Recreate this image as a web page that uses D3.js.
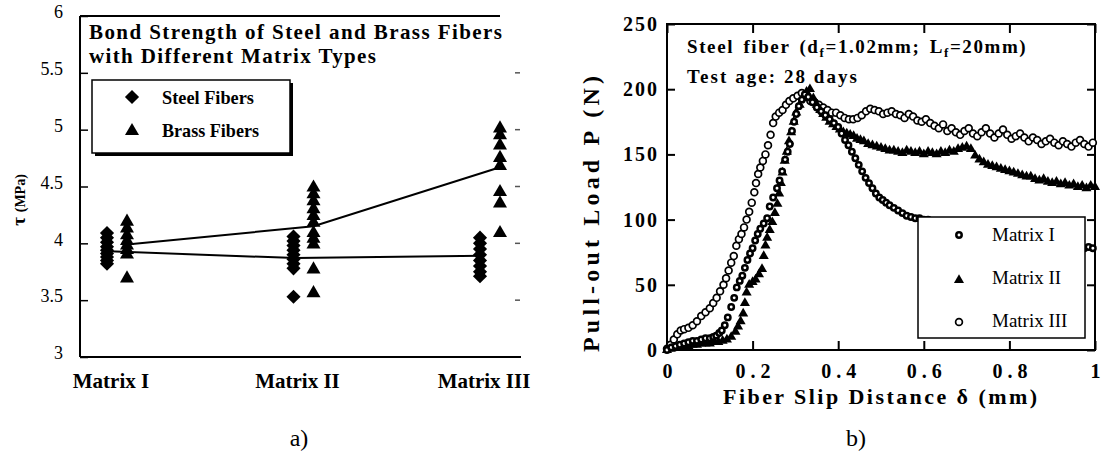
<!DOCTYPE html>
<html><head><meta charset="utf-8">
<script src="https://cdn.jsdelivr.net/npm/d3@7/dist/d3.min.js"></script>
<style>
body{margin:0;background:#fff;}
svg text{font-family:"Liberation Serif","Times New Roman",serif;fill:#000;}
</style></head>
<body>
<svg id="c" width="1109" height="454"></svg>
<script>
// ---------- DATA: chart a) ----------
const categories = ["Matrix I", "Matrix II", "Matrix III"];
const steelValues = [
  [4.09, 4.05, 4.01, 3.97, 3.94, 3.91, 3.88, 3.85, 3.82],
  [4.06, 4.02, 3.98, 3.94, 3.90, 3.86, 3.82, 3.78, 3.53],
  [4.05, 4.00, 3.95, 3.90, 3.85, 3.80, 3.75, 3.71]
];
const brassValues = [
  [4.20, 4.14, 4.08, 4.03, 3.99, 3.95, 3.91, 3.70],
  [4.50, 4.44, 4.38, 4.31, 4.25, 4.19, 4.10, 4.05, 4.00, 3.78, 3.57],
  [5.02, 4.96, 4.87, 4.76, 4.69, 4.46, 4.36, 4.10]
];
const steelMean = [3.93, 3.87, 3.89];
const brassMean = [3.99, 4.15, 4.67];
const tauTicks = [3, 3.5, 4, 4.5, 5, 5.5, 6];
const tauTickLabels = ["3", "3.5", "4", "4.5", "5", "5.5", "6"];
const legendA = ["Steel Fibers", "Brass Fibers"];

// ---------- DATA: chart b) ----------
const matrixI = [
  [0.000,0],[0.010,2],[0.020,3],[0.030,4],[0.040,5],[0.050,6],[0.060,7],[0.070,7],[0.080,8],[0.090,9],
  [0.100,9],[0.108,10],[0.115,11],[0.122,13],[0.128,15],[0.135,19],[0.142,25],[0.150,33],[0.157,40],[0.163,48],
  [0.170,53],[0.176,57],[0.182,63],[0.188,69],[0.194,74],[0.200,78],[0.206,84],[0.212,89],[0.218,93],[0.226,97],
  [0.234,101],[0.240,110],[0.248,117],[0.257,124],[0.263,130],[0.269,137],[0.276,146],[0.282,152],[0.287,158],[0.292,168],
  [0.297,175],[0.302,181],[0.308,187],[0.315,192],[0.322,196],[0.330,194],[0.340,190],[0.350,186],[0.360,183],[0.370,180],
  [0.380,177],[0.390,174],[0.400,171],[0.408,166],[0.416,161],[0.424,157],[0.432,152],[0.440,147],[0.448,142],[0.456,137],
  [0.464,132],[0.472,128],[0.480,124],[0.488,120],[0.496,117],[0.504,115],[0.512,113],[0.520,111],[0.530,109],[0.540,107],
  [0.550,105],[0.560,103],[0.570,102],[0.580,101],[0.590,101],[0.600,100],[0.610,100],[0.620,99],[0.650,97],[0.700,94],
  [0.750,91],[0.800,88],[0.850,85],[0.900,82],[0.940,80],[0.965,79],[0.975,78],[0.985,79],[0.995,78]
];
const matrixII = [
  [0.000,0],[0.010,1],[0.020,2],[0.030,2],[0.040,3],[0.050,3],[0.060,4],[0.070,4],[0.080,5],[0.090,5],
  [0.100,5],[0.110,6],[0.120,6],[0.130,7],[0.140,8],[0.150,10],[0.160,14],[0.166,18],[0.172,22],[0.178,28],
  [0.182,36],[0.186,44],[0.192,50],[0.200,52],[0.207,54],[0.215,58],[0.222,62],[0.226,72],[0.230,80],[0.234,86],
  [0.240,92],[0.246,98],[0.252,105],[0.258,112],[0.262,120],[0.266,128],[0.270,136],[0.275,145],[0.280,152],[0.285,160],
  [0.290,167],[0.296,175],[0.302,182],[0.310,188],[0.318,194],[0.326,198],[0.334,200],[0.342,193],[0.350,188],[0.358,184],
  [0.365,181],[0.372,178],[0.380,175],[0.388,173],[0.396,171],[0.404,169],[0.412,167],[0.420,166],[0.428,165],[0.436,164],
  [0.444,162],[0.452,161],[0.460,160],[0.470,158],[0.480,157],[0.490,156],[0.500,155],[0.510,154],[0.520,153],[0.530,153],
  [0.540,152],[0.550,151],[0.560,153],[0.570,152],[0.580,151],[0.590,152],[0.600,150],[0.610,152],[0.620,151],[0.630,150],
  [0.640,152],[0.650,151],[0.660,153],[0.670,152],[0.680,154],[0.690,155],[0.700,156],[0.710,154],[0.720,149],[0.730,146],
  [0.740,144],[0.750,142],[0.760,141],[0.770,140],[0.780,139],[0.790,138],[0.800,137],[0.810,136],[0.820,135],[0.830,134],
  [0.840,133],[0.850,133],[0.860,131],[0.870,130],[0.880,131],[0.890,129],[0.900,128],[0.910,129],[0.920,127],[0.930,128],
  [0.940,126],[0.950,127],[0.960,125],[0.970,126],[0.980,124],[0.990,126],[1.000,125]
];
const matrixIII = [
  [0.000,1],[0.008,4],[0.016,8],[0.024,12],[0.032,15],[0.040,16],[0.050,17],[0.060,19],[0.070,22],[0.080,26],
  [0.090,29],[0.100,32],[0.108,36],[0.116,40],[0.124,45],[0.132,50],[0.138,55],[0.144,61],[0.150,67],[0.156,72],
  [0.162,80],[0.168,85],[0.174,89],[0.180,94],[0.186,100],[0.192,106],[0.198,113],[0.204,121],[0.208,128],[0.213,135],
  [0.218,140],[0.224,145],[0.230,150],[0.236,157],[0.242,165],[0.248,174],[0.254,179],[0.262,182],[0.270,184],[0.278,188],
  [0.286,191],[0.295,193],[0.305,195],[0.315,197],[0.325,194],[0.335,191],[0.345,190],[0.355,188],[0.365,186],[0.375,184],
  [0.385,182],[0.395,182],[0.405,180],[0.415,178],[0.425,177],[0.435,177],[0.445,178],[0.455,180],[0.465,183],[0.475,185],
  [0.485,184],[0.495,183],[0.505,181],[0.515,182],[0.525,183],[0.535,181],[0.545,180],[0.555,178],[0.565,181],[0.575,179],
  [0.585,176],[0.595,175],[0.605,177],[0.615,174],[0.625,172],[0.635,170],[0.645,173],[0.655,168],[0.665,170],[0.675,167],
  [0.685,165],[0.695,168],[0.705,170],[0.715,166],[0.725,164],[0.735,167],[0.745,170],[0.755,166],[0.765,163],[0.775,166],
  [0.785,169],[0.795,165],[0.805,162],[0.815,164],[0.825,166],[0.835,163],[0.845,160],[0.855,163],[0.865,161],[0.875,158],
  [0.885,160],[0.895,162],[0.905,159],[0.915,157],[0.925,160],[0.935,158],[0.945,156],[0.955,159],[0.965,161],[0.975,158],
  [0.985,156],[0.995,159]
];
const slipTicks = [0, 0.2, 0.4, 0.6, 0.8, 1];
const slipTickLabels = ["0", "0.2", "0.4", "0.6", "0.8", "1"];
const loadTicks = [0, 50, 100, 150, 200, 250];
const loadTickLabels = ["0", "50", "100", "150", "200", "250"];
const legendB = ["Matrix I", "Matrix II", "Matrix III"];

const svg = d3.select("#c");

// ================= Chart a) =================
const aL = 80, aR = 518, aT = 16, aB = 357;
const xA = d3.scalePoint().domain(categories).range([117, 490]);
const yA = d3.scaleLinear().domain([3, 6]).range([aB, aT]);
const gA = svg.append("g");

gA.append("line").attr("x1", aL).attr("x2", aL).attr("y1", aT).attr("y2", aB).attr("stroke", "#000").attr("stroke-width", 2);
gA.append("line").attr("x1", aL).attr("x2", 500).attr("y1", aT).attr("y2", aT).attr("stroke", "#000").attr("stroke-width", 2);
gA.append("line").attr("x1", aL).attr("x2", 521).attr("y1", aB).attr("y2", aB).attr("stroke", "#000").attr("stroke-width", 2);

const axA = d3.axisLeft(yA).tickValues(tauTicks).tickSize(-8).tickPadding(17)
  .tickFormat((d, i) => tauTickLabels[i]);
const gAx = gA.append("g").attr("transform", `translate(${aL},0)`).call(axA);
gAx.select(".domain").remove();
gAx.selectAll(".tick line").attr("stroke", "#000").attr("stroke-width", 1.5);
gAx.selectAll(".tick text").attr("font-size", 18).attr("font-family", "Liberation Serif").attr("dy", "0.1em");
gA.selectAll(".rstub").data(tauTicks.slice(1, -1)).enter().append("line")
  .attr("x1", 515).attr("x2", 520).attr("y1", d => yA(d)).attr("y2", d => yA(d))
  .attr("stroke", "#555").attr("stroke-width", 1.5);

gA.selectAll(".cat").data(categories).enter().append("text")
  .attr("x", d => xA(d) - 6).attr("y", 388).attr("text-anchor", "middle")
  .attr("font-size", 21).attr("font-weight", "bold").text(d => d);

const tau = gA.append("text").attr("transform", "translate(25,200) rotate(-90)").attr("text-anchor", "middle").attr("font-weight", "bold");
tau.append("tspan").attr("font-size", 19).text("τ ");
tau.append("tspan").attr("font-size", 14).text(" (MPa)");

gA.append("text").attr("x", 89).attr("y", 39).attr("font-size", 21).attr("font-weight", "bold")
  .attr("textLength", 413).attr("lengthAdjust", "spacing").text("Bond Strength of Steel and Brass Fibers");
gA.append("text").attr("x", 89).attr("y", 63).attr("font-size", 21).attr("font-weight", "bold")
  .attr("textLength", 287).attr("lengthAdjust", "spacing").text("with Different Matrix Types");

const lineA = d3.line();
gA.append("path").attr("d", lineA(categories.map((c, i) => [xA(c) - 8, yA(steelMean[i])])))
  .attr("fill", "none").attr("stroke", "#000").attr("stroke-width", 2);
gA.append("path").attr("d", lineA(categories.map((c, i) => [xA(c) + 10, yA(brassMean[i])])))
  .attr("fill", "none").attr("stroke", "#000").attr("stroke-width", 2);

const diamond = d3.symbol().type(d3.symbolSquare).size(100);
const tri = d3.symbol().type(d3.symbolTriangle).size(85);
categories.forEach((c, i) => {
  gA.selectAll(null).data(steelValues[i]).enter().append("path")
    .attr("d", diamond()).attr("transform", d => `translate(${xA(c) - 10},${yA(d)}) rotate(45)`).attr("fill", "#000");
  gA.selectAll(null).data(brassValues[i]).enter().append("path")
    .attr("d", tri()).attr("transform", d => `translate(${xA(c) + 10},${yA(d) + 1})`).attr("fill", "#000");
});

gA.append("rect").attr("x", 95).attr("y", 83).attr("width", 198).attr("height", 73).attr("fill", "#000");
gA.append("rect").attr("x", 92).attr("y", 80).attr("width", 198).attr("height", 73).attr("fill", "#fff").attr("stroke", "#000").attr("stroke-width", 1.5);
gA.append("path").attr("d", diamond()).attr("transform", "translate(132,97) rotate(45)").attr("fill", "#000");
gA.append("path").attr("d", tri()).attr("transform", "translate(132,131)").attr("fill", "#000");
gA.append("text").attr("x", 162).attr("y", 104).attr("font-size", 19).attr("font-weight", "bold")
  .attr("textLength", 92).attr("lengthAdjust", "spacingAndGlyphs").text(legendA[0]);
gA.append("text").attr("x", 162).attr("y", 137).attr("font-size", 19).attr("font-weight", "bold")
  .attr("textLength", 97).attr("lengthAdjust", "spacingAndGlyphs").text(legendA[1]);

svg.append("text").attr("x", 299).attr("y", 446).attr("text-anchor", "middle").attr("font-size", 24).text("a)");

// ================= Chart b) =================
const bL = 667, bR = 1095, bT = 24, bB = 350;
const xB = d3.scaleLinear().domain([0, 1]).range([bL, bR]);
const yB = d3.scaleLinear().domain([0, 250]).range([bB, bT]);
const gB = svg.append("g");

gB.append("rect").attr("x", bL).attr("y", bT).attr("width", bR - bL).attr("height", bB - bT)
  .attr("fill", "none").attr("stroke", "#000").attr("stroke-width", 2);

const axBl = d3.axisLeft(yB).tickValues(loadTicks).tickSize(-8).tickPadding(10).tickFormat((d, i) => loadTickLabels[i]);
const gBl = gB.append("g").attr("transform", `translate(${bL},0)`).call(axBl);
gBl.selectAll(".tick text").attr("font-size", 20).attr("font-weight", "bold").attr("font-family", "Liberation Serif")
  .style("letter-spacing", "2px").attr("dx", "2px");
const axBr = d3.axisRight(yB).tickValues(loadTicks).tickSize(-8).tickFormat("");
const gBr = gB.append("g").attr("transform", `translate(${bR},0)`).call(axBr);
const axBb = d3.axisBottom(xB).tickValues(slipTicks).tickSize(-9).tickPadding(14).tickFormat((d, i) => slipTickLabels[i]);
const gBb = gB.append("g").attr("transform", `translate(0,${bB})`).call(axBb);
gBb.selectAll(".tick text").attr("font-size", 20).attr("font-weight", "bold").attr("font-family", "Liberation Serif")
  .style("letter-spacing", "5px").attr("dx", "2.5px");
const axBt = d3.axisTop(xB).tickValues(slipTicks).tickSize(-9).tickFormat("");
const gBt = gB.append("g").attr("transform", `translate(0,${bT})`).call(axBt);
[gBl, gBr, gBb, gBt].forEach(g => {
  g.select(".domain").remove();
  g.selectAll(".tick line").attr("stroke", "#000").attr("stroke-width", 2);
});

gB.append("text").attr("transform", "translate(599,214) rotate(-90)").attr("text-anchor", "middle")
  .attr("font-size", 24).attr("font-weight", "bold").attr("textLength", 276).attr("lengthAdjust", "spacing")
  .text("Pull-out Load P (N)");
gB.append("text").attr("x", 723).attr("y", 404).attr("font-size", 22).attr("font-weight", "bold")
  .attr("textLength", 314).attr("lengthAdjust", "spacing").text("Fiber Slip Distance δ (mm)");

const ann = gB.append("text").attr("x", 687).attr("y", 53).attr("font-size", 19).attr("font-weight", "bold")
  .style("letter-spacing", "1.6px").style("word-spacing", "3px");
ann.append("tspan").text("Steel fiber (d");
ann.append("tspan").attr("font-size", 13).attr("dy", 4).text("f");
ann.append("tspan").attr("dy", -4).text("=1.02mm;  L");
ann.append("tspan").attr("font-size", 13).attr("dy", 4).text("f");
ann.append("tspan").attr("dy", -4).text("=20mm)");
gB.append("text").attr("x", 687).attr("y", 83).attr("font-size", 19).attr("font-weight", "bold")
  .attr("textLength", 170).attr("lengthAdjust", "spacing").text("Test age:  28  days");

const triB = d3.symbol().type(d3.symbolTriangle).size(44);
gB.selectAll(".m3").data(matrixIII).enter().append("circle")
  .attr("cx", d => xB(d[0])).attr("cy", d => yB(d[1])).attr("r", 3.4)
  .attr("fill", "#fff").attr("stroke", "#000").attr("stroke-width", 1.7);
gB.selectAll(".m2").data(matrixII).enter().append("path")
  .attr("d", triB()).attr("transform", d => `translate(${xB(d[0])},${yB(d[1])})`).attr("fill", "#000");
gB.selectAll(".m1").data(matrixI).enter().append("circle")
  .attr("cx", d => xB(d[0])).attr("cy", d => yB(d[1])).attr("r", 2.7)
  .attr("fill", "#fff").attr("stroke", "#000").attr("stroke-width", 2.5);

gB.append("rect").attr("x", 918).attr("y", 217).attr("width", 167).attr("height", 121)
  .attr("fill", "#fff").attr("stroke", "#000").attr("stroke-width", 1.5);
gB.append("circle").attr("cx", 959).attr("cy", 235).attr("r", 2.7).attr("fill", "#fff").attr("stroke", "#000").attr("stroke-width", 2.5);
gB.append("path").attr("d", triB()).attr("transform", "translate(959,280)").attr("fill", "#000");
gB.append("circle").attr("cx", 959).attr("cy", 322).attr("r", 3.4).attr("fill", "#fff").attr("stroke", "#000").attr("stroke-width", 1.7);
legendB.forEach((t, i) => {
  gB.append("text").attr("x", 992).attr("y", 241 + i * 43).attr("font-size", 19).text(t);
});

svg.append("text").attr("x", 856).attr("y", 446).attr("text-anchor", "middle").attr("font-size", 24).text("b)");
</script>
</body></html>
